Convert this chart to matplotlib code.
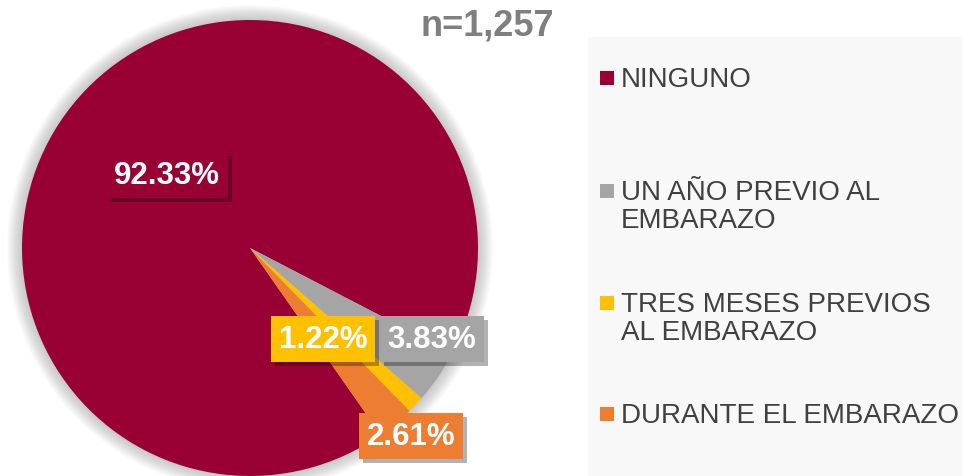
import numpy as np
import matplotlib.pyplot as plt
import matplotlib.patheffects as pe
from matplotlib.patches import Rectangle, Circle

# datos
categorias = ["NINGUNO", "UN AÑO PREVIO AL\nEMBARAZO", "TRES MESES PREVIOS\nAL EMBARAZO", "DURANTE EL EMBARAZO"]
porcentajes = [92.33, 3.83, 1.22, 2.61]
colores = ["#990033", "#A5A5A5", "#FFC000", "#ED7D31"]
etiquetas = ["92.33%", "3.83%", "1.22%", "2.61%"]
n_total = "n=1,257"

plt.rcParams['font.family'] = ['Liberation Sans', 'DejaVu Sans']

W, H = 963, 477
fig = plt.figure(figsize=(W / 100, H / 100), dpi=100)
ax = fig.add_axes([0, 0, 1, 1])

cx, cy, r = 250, H - 249, 228

# sombra difusa del pastel
for i in range(1, 16):
    ax.add_patch(Circle((cx, cy), r + i, color="#808080", alpha=0.03, lw=0, zorder=0))

wedges, _ = ax.pie(porcentajes, colors=colores, startangle=-55, counterclock=False,
                   center=(cx, cy), radius=r, frame=True,
                   wedgeprops=dict(linewidth=0))
for w in wedges:
    w.set_zorder(1)
ax.set_xlim(0, W)
ax.set_ylim(0, H)
ax.axis("off")

# etiquetas de datos
pos_etiquetas = [(167, H - 176), (432, H - 340), (323, H - 340), (411, H - 437)]
for (x, y), txt, col in zip(pos_etiquetas, etiquetas, colores):
    t = ax.text(x, y, txt, fontsize=22.5, fontweight="bold", color="white",
                ha="center", va="center", zorder=4,
                bbox=dict(boxstyle="square,pad=0.25", fc=col, ec="none"))
    t.get_bbox_patch().set_path_effects([
        pe.SimplePatchShadow(offset=(3, -3), shadow_rgbFace="black", alpha=0.3),
        pe.Normal()])

# titulo n
ax.text(487, H - 26, n_total, fontsize=26, fontweight="bold", color="#7F7F7F",
        ha="center", va="center", zorder=5)

# leyenda
ax.add_patch(Rectangle((588, 0), W - 588, H - 38, fc="#F8F8F8", ec="none", zorder=0))
tops = [68, 181, 293, 404]
for top, lab, col in zip(tops, categorias, colores):
    ax.add_patch(Rectangle((600, H - top - 18), 14, 14, fc=col, ec="none", zorder=5))
    ax.text(621, H - top + 1, lab, fontsize=20, color="#404040", ha="left", va="top",
            linespacing=1.12, zorder=5)

fig.savefig("out.png", dpi=100)
